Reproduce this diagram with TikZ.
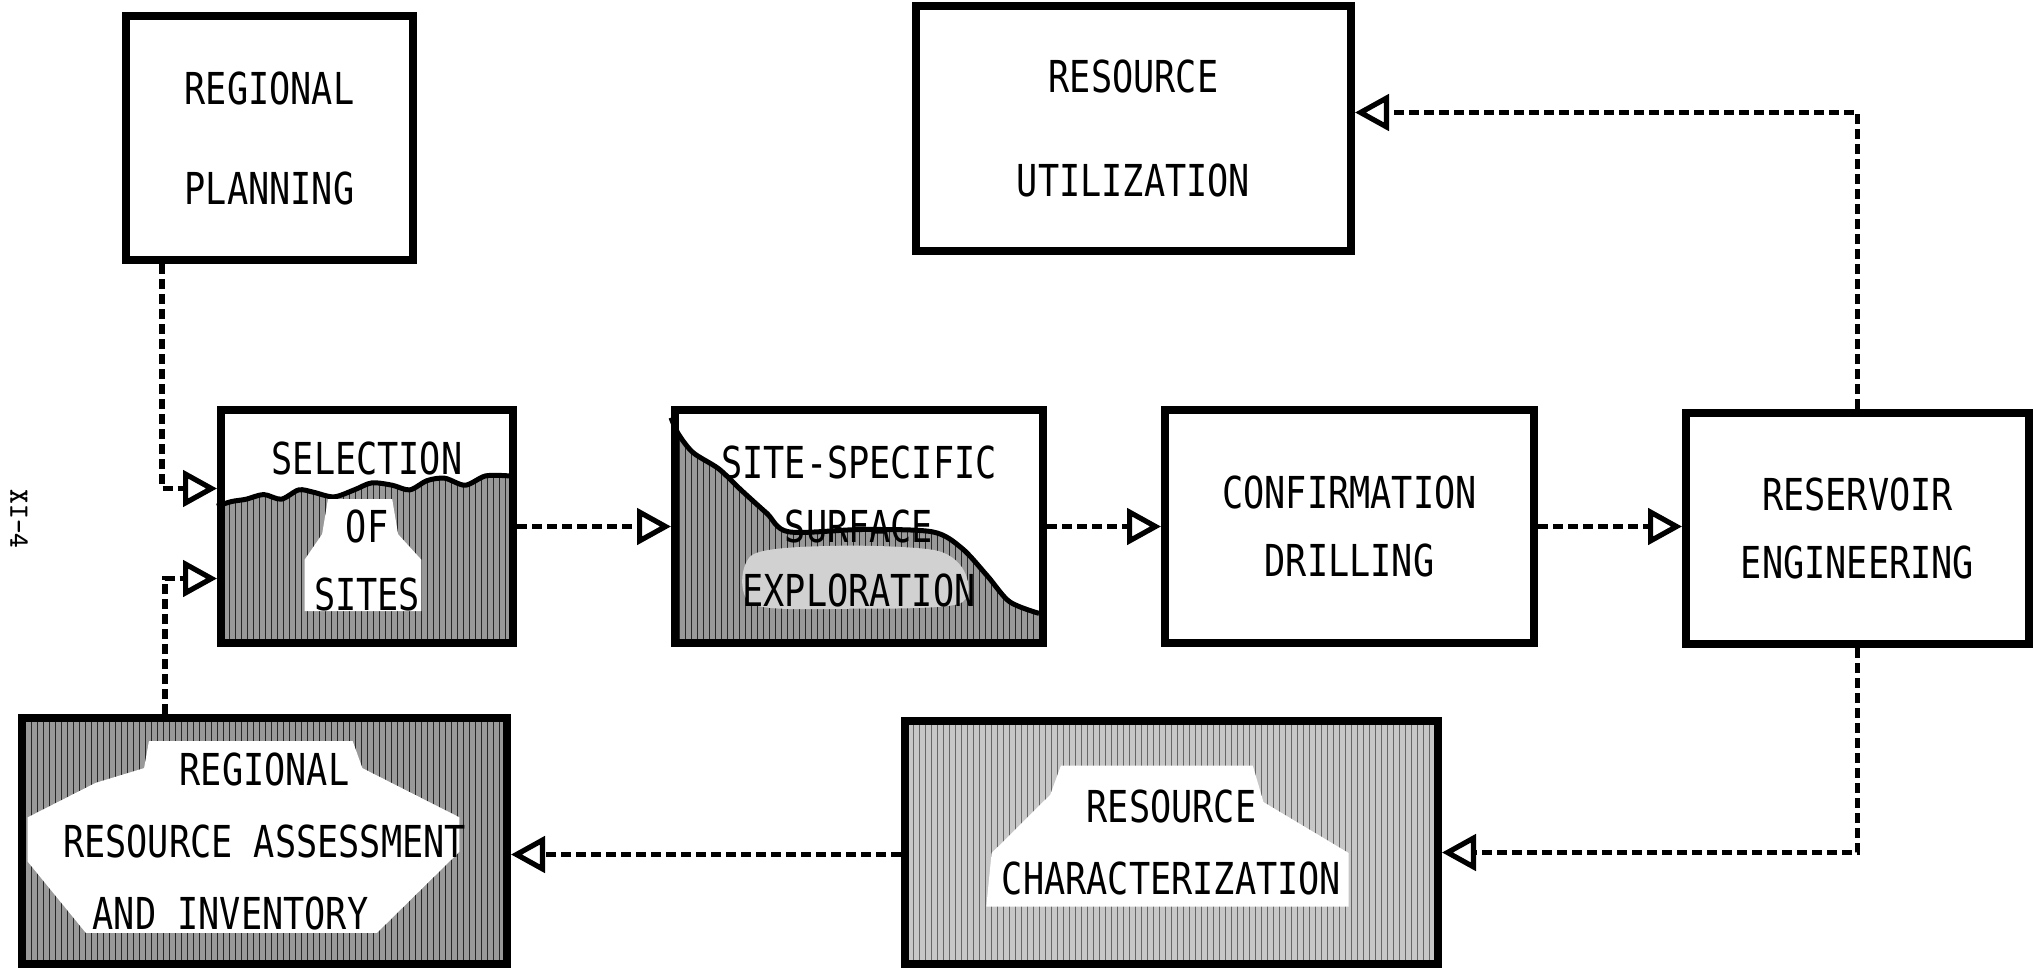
\documentclass[tikz,border=0pt]{standalone}
\usepackage{fontspec}
\newfontfamily\boxfont[FakeStretch=0.8]{DejaVu Sans Mono}
\usetikzlibrary{arrows.meta,patterns}
\pgfdeclarelayer{background}
\pgfsetlayers{background,main}

\begin{document}
\begin{tikzpicture}[x=0.5pt,y=-0.5pt,
  stage/.style={rectangle,draw,line width=4pt,align=center,inner sep=0pt,font=\boxfont\fontsize{22}{#1}\selectfont},
  stage/.default=34pt,
  hatch/.style={preaction={fill=black!40},pattern=vertical lines,pattern color=black!85},
  lighthatch/.style={preaction={fill=black!22},pattern=vertical lines,pattern color=black!60},
  flow/.style={line width=2.6pt,dash pattern=on 5pt off 2.5pt,
    -{Triangle[open,length=17pt,width=18pt,line width=2.6pt]}}]
\useasboundingbox (0,0) rectangle (2037,968);

\node [stage=50pt,minimum width=143.5pt,minimum height=122pt] (plan) at (269.5,138) {REGIONAL\\PLANNING};
\node [stage=52pt,minimum width=217.5pt,minimum height=122.5pt] (util) at (1133.5,128.5) {RESOURCE\\UTILIZATION};
\node [stage,minimum width=146pt,minimum height=116.5pt] (select) at (367,526.5) {SELECTION\\OF\\SITES};
\node [stage=32pt,minimum width=184pt,minimum height=116.5pt] (survey) at (859,526.5) {SITE-SPECIFIC\\SURFACE\\EXPLORATION};
\node [stage,minimum width=184.5pt,minimum height=116.5pt] (drill) at (1349.5,526.5) {CONFIRMATION\\DRILLING};
\node [stage,minimum width=171.5pt,minimum height=115.5pt] (reservoir) at (1857.5,528.5) {RESERVOIR\\ENGINEERING};
\node [stage=36pt,minimum width=242.5pt,minimum height=123pt] (assess) at (264.5,841) {REGIONAL\\RESOURCE ASSESSMENT\hspace*{14pt}\\AND INVENTORY\hspace*{34pt}};
\node [stage=36pt,minimum width=266.5pt,minimum height=121.5pt] (charact) at (1171.5,842.5) {RESOURCE\\CHARACTERIZATION};
\node [rotate=-90,font=\ttfamily\bfseries\fontsize{14}{16}\selectfont] (pageno) at (19,519) {XI-4};

\begin{pgfonlayer}{background}
\begin{scope}[shift={(select.north west)},x=146pt,y=-116.5pt]
  \fill [hatch] (0,1) -- plot [smooth] coordinates {(0,0.43) (0.05,0.41) (0.1,0.40) (0.16,0.38) (0.22,0.40) (0.28,0.36) (0.33,0.37) (0.40,0.39) (0.47,0.36) (0.53,0.33) (0.60,0.34) (0.66,0.36) (0.72,0.32) (0.78,0.31) (0.85,0.34) (0.92,0.30) (1,0.30)} -- (1,1) -- cycle;
  \draw [line width=2.5pt] plot [smooth] coordinates {(0,0.43) (0.05,0.41) (0.1,0.40) (0.16,0.38) (0.22,0.40) (0.28,0.36) (0.33,0.37) (0.40,0.39) (0.47,0.36) (0.53,0.33) (0.60,0.34) (0.66,0.36) (0.72,0.32) (0.78,0.31) (0.85,0.34) (0.92,0.30) (1,0.30)};
  \fill [white] (0.38,0.40) -- (0.60,0.40) -- (0.62,0.55) -- (0.70,0.66) -- (0.70,0.88) -- (0.30,0.88) -- (0.30,0.66) -- (0.36,0.55) -- cycle;
\end{scope}
\begin{scope}[shift={(survey.north west)},x=184pt,y=-116.5pt]
  \fill [hatch] (0,1) -- plot [smooth] coordinates {(0,0.05) (0.02,0.12) (0.06,0.20) (0.13,0.27) (0.19,0.36) (0.26,0.46) (0.32,0.54) (0.52,0.53) (0.71,0.54) (0.79,0.61) (0.86,0.73) (0.92,0.84) (1,0.89)} -- (1,1) -- cycle;
  \draw [line width=2.5pt] plot [smooth] coordinates {(0,0.05) (0.02,0.12) (0.06,0.20) (0.13,0.27) (0.19,0.36) (0.26,0.46) (0.32,0.54) (0.52,0.53) (0.71,0.54) (0.79,0.61) (0.86,0.73) (0.92,0.84) (1,0.89)};
  \fill [black!18] plot [smooth cycle] coordinates {(0.22,0.64) (0.45,0.60) (0.72,0.62) (0.80,0.72) (0.78,0.85) (0.5,0.87) (0.22,0.85)};
\end{scope}
\begin{scope}[shift={(assess.north west)},x=242.5pt,y=-123pt]
  \fill [hatch] (0,0) rectangle (1,1);
  \fill [white] (0.27,0.11) -- (0.69,0.11) -- (0.71,0.22) -- (0.91,0.42) -- (0.91,0.56) -- (0.74,0.89) -- (0.14,0.89) -- (0.02,0.60) -- (0.02,0.42) -- (0.16,0.28) -- (0.26,0.22) -- cycle;
\end{scope}
\begin{scope}[shift={(charact.north west)},x=266.5pt,y=-121.5pt]
  \fill [lighthatch] (0,0) rectangle (1,1);
  \fill [white] (0.30,0.20) -- (0.66,0.20) -- (0.68,0.35) -- (0.84,0.56) -- (0.84,0.78) -- (0.16,0.78) -- (0.17,0.56) -- (0.28,0.32) -- cycle;
\end{scope}
\end{pgfonlayer}

\draw [flow] ([xshift=20pt]plan.south west) |- ([yshift=19pt]select.west);
\draw [flow] ([xshift=73.5pt]assess.north west) |- ([yshift=-26pt]select.west);
\draw [flow] (select) -- (survey);
\draw [flow] (survey) -- (drill);
\draw [flow] (drill.east) -- (drill.east -| reservoir.west);
\draw [flow] (reservoir.north) |- ([yshift=8pt]util.east);
\draw [flow] (reservoir.south) |- ([yshift=-5pt]charact.east);
\draw [flow] ([yshift=-6pt]charact.west) -- ([yshift=-6pt]charact.west -| assess.east);
\end{tikzpicture}
\end{document}
